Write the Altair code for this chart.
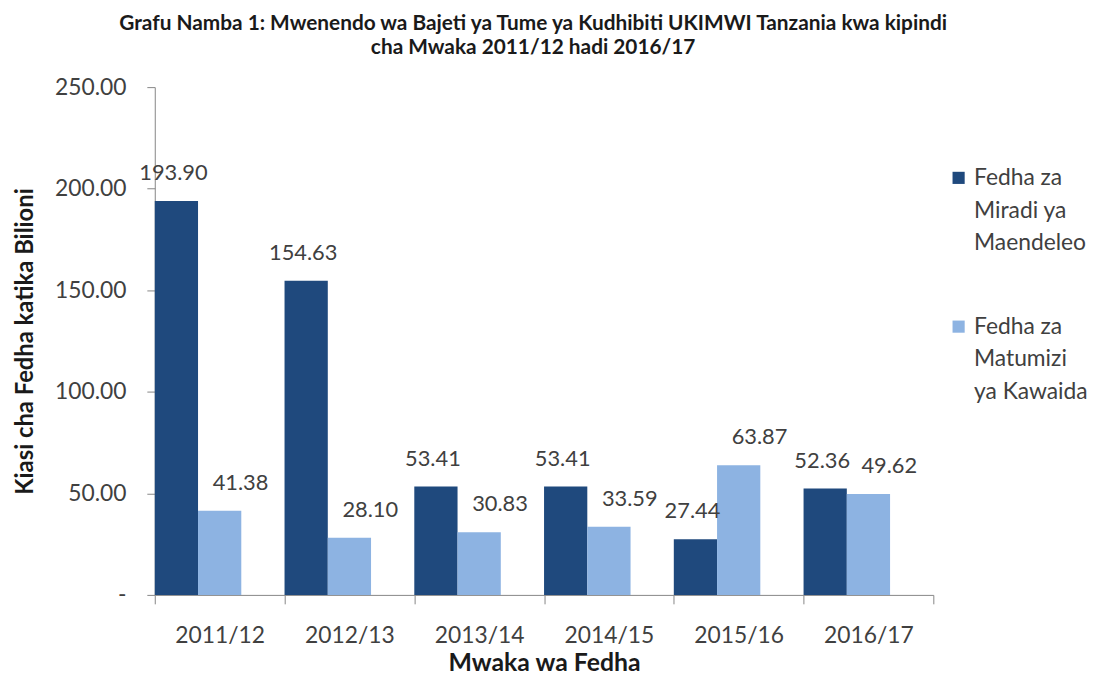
import altair as alt
import pandas as pd

years = ["2011/12", "2012/13", "2013/14", "2014/15", "2015/16", "2016/17"]
maendeleo = [193.90, 154.63, 53.41, 53.41, 27.44, 52.36]
kawaida = [41.38, 28.10, 30.83, 33.59, 63.87, 49.62]
series = ["Fedha za\nMiradi ya\nMaendeleo", "Fedha za\nMatumizi\nya Kawaida"]
colors = ["#1F497D", "#8DB3E2"]
y_ticks = [0, 50, 100, 150, 200, 250]

rows = []
for i, yr in enumerate(years):
    rows.append({"year": yr, "series": series[0], "value": maendeleo[i]})
    rows.append({"year": yr, "series": series[1], "value": kawaida[i]})
df = pd.DataFrame(rows)

FONT = "Lato"

base = alt.Chart(df).encode(
    x=alt.X(
        "year:N",
        sort=years,
        scale=alt.Scale(paddingInner=0, paddingOuter=0),
        axis=alt.Axis(
            title="Mwaka wa Fedha",
            labelAngle=0,
            tickBand="extent",
            tickSize=9,
            labelPadding=21,
            titlePadding=3,
            titleFontSize=25,
        ),
    ),
    xOffset=alt.XOffset(
        "series:N",
        scale=alt.Scale(domain=series + ["_"], paddingInner=0, paddingOuter=0),
    ),
    y=alt.Y(
        "value:Q",
        scale=alt.Scale(domain=[0, 250]),
        axis=alt.Axis(
            title="Kiasi cha Fedha katika Bilioni",
            values=y_ticks,
            labelExpr="datum.value == 0 ? '-' : format(datum.value, '.2f')",
            tickSize=8,
            labelPadding=21,
            titlePadding=17,
            titleFontSize=24,
            grid=False,
        ),
    ),
)

bars = base.mark_bar().encode(
    color=alt.Color(
        "series:N",
        scale=alt.Scale(domain=series, range=colors),
        legend=alt.Legend(
            title=None,
            orient="none",
            legendX=799,
            legendY=80,
            symbolType="square",
            symbolSize=150,
            symbolStrokeWidth=0,
            labelExpr="split(datum.label, '\\n')",
            labelFontSize=23,
            labelFont=FONT,
            labelColor="#404040",
            labelOffset=4,
            labelLimit=300,
            labelBaseline="middle",
            rowPadding=60,
        ),
    )
)

text_dark = (
    base.transform_filter(alt.datum.series == series[0])
    .mark_text(dy=-28, dx=-3, fontSize=22, font=FONT, color="#404040", baseline="middle")
    .encode(text=alt.Text("value:Q", format=".2f"))
)
text_light = (
    base.transform_filter(alt.datum.series == series[1])
    .mark_text(dy=-28, dx=21, fontSize=22, font=FONT, color="#404040", baseline="middle")
    .encode(text=alt.Text("value:Q", format=".2f"))
)

chart = (
    (bars + text_dark + text_light)
    .properties(
        width=785,
        height=512,
        padding={"left": 148, "top": 77, "right": 160, "bottom": 80},
        autosize=alt.AutoSizeParams(type="none"),
        title=alt.TitleParams(
            text=[
                "Grafu Namba 1: Mwenendo wa Bajeti ya Tume ya Kudhibiti UKIMWI Tanzania kwa kipindi",
                "cha Mwaka 2011/12 hadi 2016/17",
            ],
            font=FONT,
            fontSize=21,
            fontWeight="bold",
            color="#1a1a1a",
            anchor="middle",
            dx=-11,
            lineHeight=25,
            offset=18,
        ),
    )
    .configure(style={"guide-label": {"lineHeight": 33}})
    .configure_view(stroke=None)
    .configure_axis(
        labelFont=FONT,
        labelFontSize=23,
        labelColor="#404040",
        titleFont=FONT,
        titleFontSize=23,
        titleFontWeight="bold",
        titleColor="#1a1a1a",
        domainColor="#868686",
        tickColor="#868686",
        grid=False,
    )
)

chart.save("out.html", embed_options={"renderer": "svg", "actions": False})
